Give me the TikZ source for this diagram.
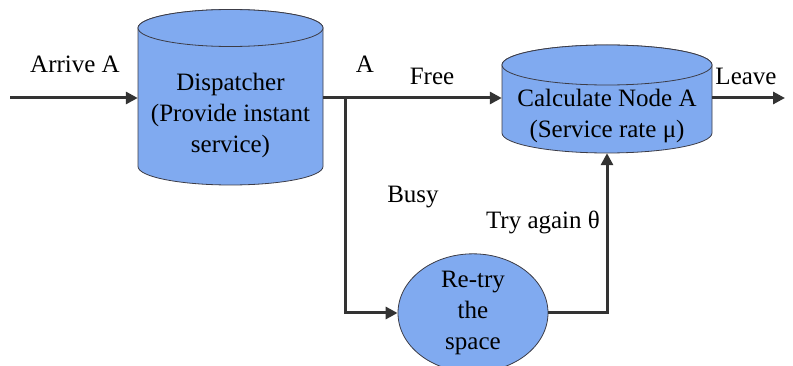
\documentclass[tikz,border=0pt]{standalone}
\usepackage{fontspec}
\setmainfont{Liberation Serif}
\usetikzlibrary{shapes.geometric,arrows.meta}
\pgfdeclarelayer{bg}
\pgfsetlayers{bg,main}
\definecolor{cylblue}{RGB}{128,170,240}
\definecolor{edgegray}{RGB}{60,60,70}
\definecolor{flowgray}{RGB}{51,51,51}
\begin{document}
\begin{tikzpicture}[x=1pt,y=-1pt,font=\fontsize{25}{31}\selectfont]
\tikzstyle{body}=[align=center,inner xsep=0pt,inner ysep=0pt]
\tikzstyle{cylpaint}=[draw=edgegray,line width=0.8pt,fill=cylblue]
\tikzstyle{retrybox}=[ellipse,draw=edgegray,line width=0.8pt,fill=cylblue,align=center,inner sep=0pt]
\tikzstyle{flow}=[draw=flowgray,line width=3pt,-{Triangle[length=12pt,width=12pt]}]
\tikzstyle{wire}=[draw=flowgray,line width=3pt]
\useasboundingbox (0,0) rectangle (793,366);
% stations
\node[body,minimum width=185pt] (disp) at (230.5,115) {Dispatcher\\(Provide instant\\service)};
\node[body,minimum width=210pt,minimum height=74pt] (calc) at (607,116) {Calculate Node A\\(Service rate μ)};
\node[retrybox,minimum width=150pt,minimum height=110pt] (retry) at (473,313) {Re-try\\the\\space};
% cylinders behind the text
\begin{pgfonlayer}{bg}
\path[cylpaint] (138,28) -- (138,166.5) arc[start angle=180,end angle=360,x radius=92.5pt,y radius=18.5pt] -- (323,28) arc[start angle=0,end angle=180,x radius=92.5pt,y radius=18.5pt] -- cycle;
\path[cylpaint] (230.5,28) ellipse[x radius=92.5pt,y radius=18.5pt];
\path[cylpaint] (502,65) -- (502,133) arc[start angle=180,end angle=360,x radius=105pt,y radius=20pt] -- (712,65) arc[start angle=0,end angle=180,x radius=105pt,y radius=20pt] -- cycle;
\path[cylpaint] (607,65) ellipse[x radius=105pt,y radius=20pt];
\end{pgfonlayer}
% connectors
\coordinate (in) at (10,98);
\coordinate (split) at (345,98);
\coordinate (out) at (785,98);
\draw[flow] (in) -- (disp.west |- in);
\draw[wire] (disp.east |- split) -- (split);
\draw[flow] (split) -- (calc.west |- split);
\draw[flow] (split) |- (retry.west);
\draw[flow] (retry.east) -| (calc.south);
\draw[flow] (calc.east |- out) -- (out);
% labels
\node (arrive) at (75,64) {Arrive A};
\node (alabel) at (365,64) {A};
\node (free) at (432,76) {Free};
\node (leave) at (746,76) {Leave};
\node (busy) at (413,197) {Busy};
\node (again) at (543,222) {Try again θ};
\end{tikzpicture}
\end{document}
